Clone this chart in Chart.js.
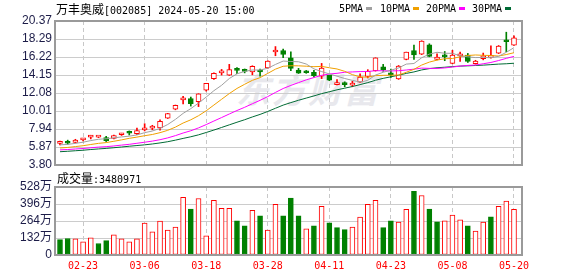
<!DOCTYPE html>
<html>
<head>
<meta charset="utf-8">
<script src="https://cdn.jsdelivr.net/npm/chart.js@4.4.1/dist/chart.umd.min.js"></script>
<style>
    body { margin: 0; background: #fff; width: 578px; height: 276px; position: relative; overflow: hidden; }
    canvas { position: absolute; left: 0; }
    #mainChart { top: 0; }
    #volChart { top: 176px; }
    .txt { position: absolute; white-space: nowrap; color: #000; line-height: 14px; z-index: 2; }
    .cjk { font-family: "Noto Sans CJK SC", sans-serif; font-size: 12px; }
    .mono { font-family: "DejaVu Sans Mono", monospace; font-size: 10px; }
    .key { position: absolute; width: 6px; height: 3px; top: 7px; z-index: 2; }
    #watermark { position: absolute; left: 236px; top: 64px; font: italic bold 34px "Noto Sans CJK SC", sans-serif;
                 letter-spacing: 2px; color: #e8e8ed; z-index: 0; }
</style>
</head>
<body>
<div id="watermark">东方财富</div>
<div class="txt" style="left:56px; top:2px;"><span class="cjk">万丰奥威</span><span class="mono">[002085] 2024-05-20 15:00</span></div>
<div class="txt mono" style="left:339px; top:2px;">5PMA</div><div class="key" style="left:366px; background:#a0a0a0;"></div>
<div class="txt mono" style="left:380px; top:2px;">10PMA</div><div class="key" style="left:413px; background:#f0a000;"></div>
<div class="txt mono" style="left:426px; top:2px;">20PMA</div><div class="key" style="left:459px; background:#ff00ff;"></div>
<div class="txt mono" style="left:472px; top:2px;">30PMA</div><div class="key" style="left:505px; background:#006b35;"></div>
<div class="txt" style="left:57px; top:171px;"><span class="cjk">成交量</span><span class="mono">:3480971</span></div>
<canvas id="mainChart" width="578" height="176"></canvas>
<canvas id="volChart" width="578" height="100"></canvas>
<script>
// Trading days shown (MM-DD)
const dates = ['02-20', '02-21', '02-22', '02-23', '02-26', '02-27', '02-28', '02-29', '03-01', '03-04',
    '03-05', '03-06', '03-07', '03-08', '03-11', '03-12', '03-13', '03-14', '03-15', '03-18',
    '03-19', '03-20', '03-21', '03-22', '03-25', '03-26', '03-27', '03-28', '03-29', '04-01',
    '04-02', '04-03', '04-08', '04-09', '04-10', '04-11', '04-12', '04-15', '04-16', '04-17',
    '04-18', '04-19', '04-22', '04-23', '04-24', '04-25', '04-26', '04-29', '04-30', '05-06',
    '05-07', '05-08', '05-09', '05-10', '05-13', '05-14', '05-15', '05-16', '05-17', '05-20'];

// Daily prices
const opens = [6.28, 6.34, 6.40, 6.70, 7.00, 7.00, 6.95, 6.86, 7.28, 7.50,
    7.40, 7.85, 8.05, 8.08, 9.20, 10.22, 11.30, 11.45, 11.08, 12.40,
    13.72, 14.40, 14.15, 14.72, 14.62, 14.52, 14.56, 14.96, 16.80, 16.98,
    16.14, 14.73, 14.60, 14.46, 14.02, 14.12, 13.05, 13.15, 13.00, 13.32,
    14.00, 14.66, 15.11, 14.24, 13.71, 15.95, 16.98, 16.56, 17.63, 15.95,
    16.30, 15.50, 16.34, 16.45, 15.46, 16.03, 16.18, 16.68, 18.05, 17.59];
const highs = [6.55, 6.66, 6.76, 6.88, 7.22, 7.10, 7.10, 7.25, 7.45, 7.72,
    8.05, 8.55, 8.37, 9.00, 9.74, 10.70, 11.70, 11.62, 12.00, 13.19,
    14.40, 14.80, 15.38, 15.00, 14.85, 15.22, 14.85, 15.80, 17.43, 17.13,
    16.83, 14.92, 14.68, 14.68, 15.49, 14.15, 13.63, 13.37, 13.43, 14.28,
    14.77, 16.14, 15.38, 14.85, 15.25, 16.79, 17.59, 18.10, 17.75, 16.60,
    16.86, 17.00, 16.79, 16.64, 15.85, 16.68, 17.51, 17.55, 19.08, 18.66];
const lows = [6.10, 6.18, 6.33, 6.58, 6.80, 6.95, 6.50, 6.80, 7.20, 7.25,
    7.30, 7.72, 7.85, 7.80, 9.15, 10.15, 10.82, 10.58, 10.52, 12.30,
    13.65, 14.15, 14.10, 14.32, 14.40, 14.18, 14.02, 14.92, 16.37, 16.14,
    14.66, 14.33, 14.35, 13.93, 13.74, 13.50, 13.02, 12.80, 12.80, 13.30,
    13.82, 14.60, 14.58, 13.89, 13.65, 15.90, 15.95, 16.50, 16.25, 15.90,
    15.80, 15.45, 15.72, 15.60, 15.40, 15.90, 16.10, 16.62, 16.83, 17.55];
const closes = [6.32, 6.30, 6.67, 6.74, 7.04, 7.03, 6.60, 7.18, 7.32, 7.45,
    7.76, 7.90, 8.12, 8.83, 9.71, 10.68, 11.38, 10.86, 11.99, 13.19,
    14.35, 14.46, 14.77, 14.68, 14.57, 15.15, 14.50, 15.76, 16.86, 16.52,
    14.92, 14.36, 14.42, 14.08, 14.96, 13.56, 13.10, 13.04, 13.06, 13.93,
    14.58, 16.14, 14.74, 14.18, 15.19, 16.79, 16.48, 18.05, 16.30, 16.22,
    16.25, 16.45, 16.60, 15.72, 15.76, 16.37, 16.24, 17.48, 17.98, 18.43];

// Moving averages as drawn
const ma5 = [6.12, 6.17, 6.29, 6.42, 6.61, 6.76, 6.82, 6.92, 7.03, 7.12,
    7.26, 7.52, 7.71, 8.01, 8.46, 9.05, 9.74, 10.29, 10.92, 11.62,
    12.35, 12.97, 13.75, 14.29, 14.57, 14.73, 14.73, 14.93, 15.37, 15.76,
    15.71, 15.68, 15.42, 14.86, 14.55, 14.28, 14.02, 13.75, 13.54, 13.34,
    13.54, 14.15, 14.47, 14.71, 14.97, 15.41, 15.48, 16.14, 16.56, 16.77,
    16.66, 16.65, 16.37, 16.25, 16.16, 16.18, 16.14, 16.31, 16.77, 17.30];
const ma10 = [5.76, 5.82, 5.92, 6.02, 6.16, 6.29, 6.38, 6.53, 6.69, 6.87,
    7.01, 7.17, 7.31, 7.52, 7.79, 8.16, 8.63, 9.00, 9.47, 10.04,
    10.70, 11.36, 12.02, 12.61, 13.09, 13.54, 13.85, 14.34, 14.83, 15.16,
    15.22, 15.21, 15.17, 15.11, 15.15, 14.99, 14.85, 14.58, 14.20, 13.94,
    13.91, 14.08, 14.12, 14.13, 14.15, 14.47, 14.81, 15.30, 15.64, 15.87,
    16.03, 16.06, 16.25, 16.40, 16.46, 16.42, 16.40, 16.34, 16.51, 16.72];
const ma20 = [5.54, 5.58, 5.64, 5.70, 5.78, 5.86, 5.91, 5.99, 6.09, 6.18,
    6.30, 6.42, 6.55, 6.71, 6.92, 7.18, 7.48, 7.74, 8.07, 8.45,
    8.86, 9.26, 9.67, 10.07, 10.44, 10.85, 11.24, 11.67, 12.15, 12.60,
    12.96, 13.28, 13.60, 13.86, 14.12, 14.27, 14.35, 14.47, 14.51, 14.55,
    14.56, 14.65, 14.64, 14.62, 14.65, 14.73, 14.83, 14.95, 14.92, 14.91,
    14.97, 15.07, 15.18, 15.26, 15.30, 15.45, 15.60, 15.82, 16.07, 16.30];
const ma30 = [5.33, 5.38, 5.44, 5.50, 5.58, 5.65, 5.71, 5.79, 5.87, 5.96,
    6.04, 6.12, 6.22, 6.34, 6.48, 6.66, 6.86, 7.05, 7.27, 7.54,
    7.82, 8.12, 8.42, 8.72, 9.01, 9.33, 9.62, 9.96, 10.33, 10.69,
    10.98, 11.25, 11.50, 11.75, 12.01, 12.23, 12.45, 12.64, 12.83, 13.05,
    13.28, 13.55, 13.77, 13.95, 14.13, 14.34, 14.51, 14.74, 14.89, 14.99,
    15.05, 15.12, 15.18, 15.21, 15.25, 15.29, 15.35, 15.41, 15.45, 15.51];

// Volume in 万 shares
const volumes = [120, 128, 125, 102, 133, 89, 112, 156, 125, 102,
    125, 248, 179, 263, 194, 217, 447, 357, 439, 148,
    424, 363, 363, 266, 227, 347, 304, 194, 393, 304,
    442, 304, 204, 227, 378, 250, 212, 197, 217, 294,
    393, 424, 212, 266, 255, 355, 495, 462, 357, 258,
    266, 309, 273, 227, 186, 255, 296, 378, 419, 355];

// Axis ticks
const xTickLabels = ['02-23', '03-06', '03-18', '03-28', '04-11', '04-23', '05-08', '05-20'];
const priceTicks = ['3.80', '5.87', '7.94', '10.01', '12.08', '14.15', '16.22', '18.29', '20.37'];
const volTicks = [0, 132, 264, 396, 528];

const RED = '#ff0000';
const GREEN = '#008000';
const xTickIdx = xTickLabels.map(d => dates.indexOf(d));
const candleUp = dates.map((d, i) => closes[i] >= opens[i]);
// volume colour follows the change against the previous close
const volUp = dates.map((d, i) => i === 0 ? false : closes[i] >= closes[i - 1]);

Chart.defaults.font.family = '"Liberation Sans", "Noto Sans CJK SC", sans-serif';
Chart.defaults.font.size = 12;
Chart.defaults.animation = false;

// Grey box round the plot area
const framePlugin = {
    id: 'frame',
    afterDraw(chart) {
        const { ctx, chartArea: a } = chart;
        ctx.save();
        ctx.strokeStyle = '#9a9a9a';
        ctx.lineWidth = 2;
        ctx.strokeRect(a.left, a.top, a.right - a.left, a.bottom - a.top);
        ctx.restore();
    }
};

function xScale(showLabels) {
    return {
        type: 'linear',
        min: -0.65,
        max: 60.04,
        offset: false,
        afterBuildTicks: s => { s.ticks = xTickIdx.map(v => ({ value: v })); },
        afterFit: s => { s.height = showLabels ? 21 : 0; },
        grid: { color: '#c8c8c8', offset: false, drawTicks: false },
        border: { display: false, dash: [4, 3] },
        ticks: {
            display: showLabels,
            autoSkip: false,
            maxRotation: 0,
            padding: 5,
            color: RED,
            font: { family: '"DejaVu Sans Mono", monospace', size: 10 },
            callback: v => dates[v]
        }
    };
}

function yScale(min, max, ticks, label) {
    return {
        min: min,
        max: max,
        afterBuildTicks: s => { s.ticks = ticks.map(t => ({ value: parseFloat(t) })); },
        afterFit: s => { s.width = 55; },
        grid: { color: '#cccccc', drawTicks: false },
        border: { display: false },
        ticks: { autoSkip: false, padding: 3, color: '#1c1c48', callback: label }
    };
}

function maLine(values, color) {
    return {
        type: 'line',
        data: values.map((v, i) => ({ x: i, y: v })),
        borderColor: color,
        borderWidth: 1,
        pointRadius: 0,
        tension: 0,
        order: 0
    };
}

// Price panel: candles + moving averages
new Chart(document.getElementById('mainChart'), {
    type: 'bar',
    data: {
        datasets: [
            maLine(ma5, '#a0a0a0'),
            maLine(ma10, '#f0a000'),
            maLine(ma20, '#ff00ff'),
            maLine(ma30, '#006b35'),
            {
                // candle bodies
                data: dates.map((d, i) => ({ x: i, y: [opens[i], closes[i]] })),
                backgroundColor: candleUp.map(u => u ? '#ffffff' : GREEN),
                borderColor: candleUp.map(u => u ? RED : GREEN),
                borderWidth: 1,
                borderSkipped: false,
                barThickness: 5,
                minBarLength: 2,
                grouped: false,
                order: 1
            },
            {
                // wicks
                data: dates.map((d, i) => ({ x: i, y: [lows[i], highs[i]] })),
                backgroundColor: candleUp.map(u => u ? RED : GREEN),
                barThickness: 1,
                grouped: false,
                order: 2
            }
        ]
    },
    options: {
        responsive: false,
        events: [],
        layout: { padding: { top: 21, right: 56, bottom: 11, left: 0 } },
        plugins: { legend: { display: false }, tooltip: { enabled: false } },
        scales: {
            x: xScale(false),
            y: yScale(3.80, 20.37, priceTicks, v => v.toFixed(2))
        }
    },
    plugins: [framePlugin]
});

// Volume panel
new Chart(document.getElementById('volChart'), {
    type: 'bar',
    data: {
        datasets: [{
            data: volumes.map((v, i) => ({ x: i, y: v })),
            backgroundColor: volUp.map(u => u ? '#ffffff' : GREEN),
            borderColor: volUp.map(u => u ? RED : GREEN),
            borderWidth: 1,
            borderSkipped: false,
            barThickness: 5,
            grouped: false
        }]
    },
    options: {
        responsive: false,
        events: [],
        layout: { padding: { top: 11, right: 56, bottom: 0, left: 0 } },
        plugins: { legend: { display: false }, tooltip: { enabled: false } },
        scales: {
            x: xScale(true),
            y: yScale(0, 528, volTicks, v => v === 0 ? '0' : v + '万')
        }
    },
    plugins: [framePlugin]
});
</script>
</body>
</html>
